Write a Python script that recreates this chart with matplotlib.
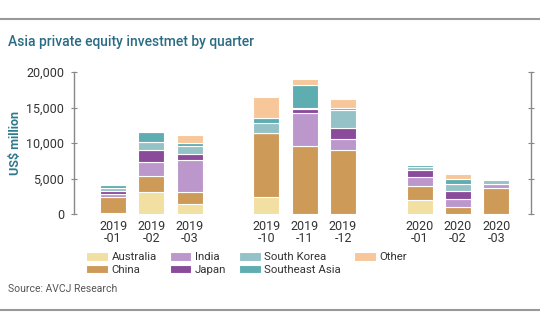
import matplotlib
matplotlib.use('Agg')
import matplotlib.pyplot as plt
from matplotlib.lines import Line2D
import numpy as np

plt.rcParams['font.family'] = ['Roboto', 'DejaVu Sans']

# 분기 라벨
quarters = ['2019\n-01', '2019\n-02', '2019\n-03',
            '2019\n-10', '2019\n-11', '2019\n-12',
            '2020\n-01', '2020\n-02', '2020\n-03']
positions = [0, 1, 2, 4, 5, 6, 8, 9, 10]

# 지역별 투자액 (US$ million)
australia = [100, 3100, 1430, 2350, 0, 0, 2020, 0, 0]
china = [2350, 2280, 1720, 9050, 9530, 9060, 1980, 950, 3660]
india = [400, 1970, 4410, 0, 4700, 1540, 1250, 1200, 550]
japan = [350, 1710, 940, 0, 560, 1600, 950, 1100, 100]
south_korea = [500, 1090, 1120, 1400, 200, 2450, 500, 950, 500]
southeast_asia = [350, 1400, 430, 710, 3210, 280, 200, 750, 120]
other = [250, 0, 1080, 2970, 800, 1270, 150, 700, 0]

series = [('Australia', australia, '#F2DFA2'),
          ('China', china, '#CE9A58'),
          ('India', india, '#BC97CC'),
          ('Japan', japan, '#8A4B9B'),
          ('South Korea', south_korea, '#95C2C7'),
          ('Southeast Asia', southeast_asia, '#5DADB1'),
          ('Other', other, '#F7C699')]

fig = plt.figure(figsize=(5.4, 3.34), dpi=100)
ax = fig.add_axes([0.137, 0.359, 0.846, 0.425])

bottom = np.zeros(len(quarters))
for name, vals, col in series:
    ax.bar(positions, vals, 0.68, bottom=bottom, color=col, label=name,
           edgecolor='white', linewidth=0.8)
    bottom += np.array(vals)

ax.set_xlim(-1.02, 10.9)
ax.set_ylim(0, 20000)
ax.set_yticks([0, 5000, 10000, 15000, 20000])
ax.set_yticklabels(['0', '5,000', '10,000', '15,000', '20,000'])
ax.set_xticks(positions)
ax.set_xticklabels(quarters, linespacing=0.95)
ax.tick_params(axis='x', length=0, labelsize=9, colors='#333333', pad=4)
ax.tick_params(axis='y', labelsize=9, colors='#333333', length=4,
               direction='inout', color='#888888', pad=5)
ax.tick_params(axis='y', which='both', right=True, labelright=False)

for s in ['top', 'bottom']:
    ax.spines[s].set_visible(False)
for s in ['left', 'right']:
    ax.spines[s].set_color('#888888')
    ax.spines[s].set_linewidth(1)

ax.set_ylabel('US$ million', color='#2F7A8E', fontsize=9, fontweight='bold',
              labelpad=3)

ax.legend(ncol=4, loc='upper left', bbox_to_anchor=(0.017, -0.235), frameon=False,
          fontsize=8.2, handlelength=1.9, handleheight=0.8, handletextpad=0.3,
          columnspacing=1.15, labelspacing=0.2, borderaxespad=0,
          labelcolor='#333333')

fig.text(0.015, 0.873, 'Asia private equity investmet by quarter',
         fontsize=10, fontweight='medium', color='#2B6C84', va='center')
fig.text(0.015, 0.135, 'Source: AVCJ Research', fontsize=7.5,
         color='#555555', va='center')

fig.add_artist(Line2D([0, 1], [0.942, 0.942], color='#999999', linewidth=1.5))
fig.add_artist(Line2D([0, 1], [0.072, 0.072], color='#999999', linewidth=1.5))

plt.savefig('out.png', dpi=100)
